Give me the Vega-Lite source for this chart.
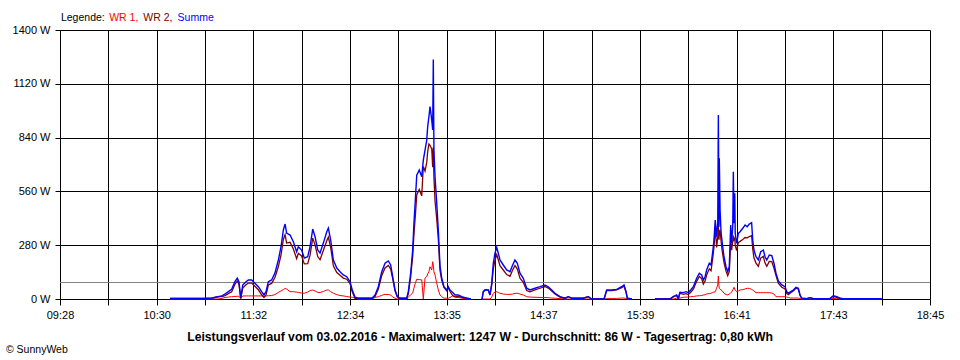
{
  "$schema": "https://vega.github.io/schema/vega-lite/v6.json",
  "width": 870,
  "height": 269,
  "autosize": {"type": "none"},
  "padding": {"left": 60, "top": 30, "right": 30, "bottom": 61},
  "background": "white",
  "config": {"view": {"stroke": null}, "font": "Liberation Sans"},
  "data": {"values": [
    {"t":638.4,"seg":1,"summe":3,"wr1":0,"wr2":3},
    {"t":660.8,"seg":1,"summe":3,"wr1":0,"wr2":3},
    {"t":665.3,"seg":1,"summe":5,"wr1":0,"wr2":5},
    {"t":669.2,"seg":1,"summe":12,"wr1":0,"wr2":12},
    {"t":671.7,"seg":1,"summe":16,"wr1":3,"wr2":13},
    {"t":673.6,"seg":1,"summe":26,"wr1":8,"wr2":18},
    {"t":675.8,"seg":1,"summe":38,"wr1":10,"wr2":28},
    {"t":677.9,"seg":1,"summe":50,"wr1":12,"wr2":38},
    {"t":680.0,"seg":1,"summe":90,"wr1":13,"wr2":77},
    {"t":681.5,"seg":1,"summe":108,"wr1":14,"wr2":94},
    {"t":682.6,"seg":1,"summe":90,"wr1":14,"wr2":76},
    {"t":683.7,"seg":1,"summe":5,"wr1":3,"wr2":2},
    {"t":685.0,"seg":1,"summe":73,"wr1":16,"wr2":57},
    {"t":687.1,"seg":1,"summe":90,"wr1":16,"wr2":74},
    {"t":688.6,"seg":1,"summe":99,"wr1":16,"wr2":83},
    {"t":690.7,"seg":1,"summe":99,"wr1":16,"wr2":83},
    {"t":692.8,"seg":1,"summe":82,"wr1":16,"wr2":66},
    {"t":695.0,"seg":1,"summe":64,"wr1":16,"wr2":48},
    {"t":697.1,"seg":1,"summe":38,"wr1":16,"wr2":22},
    {"t":698.6,"seg":1,"summe":21,"wr1":13,"wr2":8},
    {"t":699.9,"seg":1,"summe":38,"wr1":16,"wr2":22},
    {"t":701.4,"seg":1,"summe":90,"wr1":17,"wr2":73},
    {"t":703.5,"seg":1,"summe":99,"wr1":18,"wr2":81},
    {"t":705.6,"seg":1,"summe":135,"wr1":23,"wr2":112},
    {"t":707.8,"seg":1,"summe":203,"wr1":34,"wr2":169},
    {"t":709.5,"seg":1,"summe":272,"wr1":42,"wr2":230},
    {"t":711.0,"seg":1,"summe":359,"wr1":49,"wr2":310},
    {"t":712.1,"seg":1,"summe":390,"wr1":55,"wr2":335},
    {"t":713.1,"seg":1,"summe":343,"wr1":52,"wr2":291},
    {"t":715.3,"seg":1,"summe":333,"wr1":38,"wr2":295},
    {"t":717.4,"seg":1,"summe":298,"wr1":38,"wr2":260},
    {"t":719.5,"seg":1,"summe":246,"wr1":36,"wr2":210},
    {"t":720.6,"seg":1,"summe":272,"wr1":34,"wr2":238},
    {"t":722.7,"seg":1,"summe":255,"wr1":31,"wr2":224},
    {"t":724.4,"seg":1,"summe":213,"wr1":30,"wr2":183},
    {"t":726.6,"seg":1,"summe":220,"wr1":36,"wr2":184},
    {"t":728.1,"seg":1,"summe":272,"wr1":44,"wr2":228},
    {"t":729.8,"seg":1,"summe":364,"wr1":47,"wr2":317},
    {"t":731.3,"seg":1,"summe":324,"wr1":42,"wr2":282},
    {"t":733.0,"seg":1,"summe":255,"wr1":34,"wr2":221},
    {"t":734.5,"seg":1,"summe":239,"wr1":34,"wr2":205},
    {"t":736.6,"seg":1,"summe":291,"wr1":39,"wr2":252},
    {"t":738.8,"seg":1,"summe":350,"wr1":47,"wr2":303},
    {"t":739.8,"seg":1,"summe":369,"wr1":47,"wr2":322},
    {"t":741.3,"seg":1,"summe":307,"wr1":38,"wr2":269},
    {"t":743.0,"seg":1,"summe":203,"wr1":30,"wr2":173},
    {"t":745.2,"seg":1,"summe":161,"wr1":23,"wr2":138},
    {"t":747.3,"seg":1,"summe":142,"wr1":18,"wr2":124},
    {"t":749.4,"seg":1,"summe":125,"wr1":16,"wr2":109},
    {"t":751.6,"seg":1,"summe":116,"wr1":13,"wr2":103},
    {"t":753.7,"seg":1,"summe":90,"wr1":10,"wr2":80},
    {"t":755.1,"seg":1,"summe":47,"wr1":9,"wr2":38},
    {"t":756.9,"seg":1,"summe":9,"wr1":5,"wr2":4},
    {"t":758.8,"seg":1,"summe":4,"wr1":0,"wr2":4},
    {"t":763.3,"seg":1,"summe":4,"wr1":0,"wr2":4},
    {"t":767.8,"seg":1,"summe":4,"wr1":0,"wr2":4},
    {"t":769.7,"seg":1,"summe":21,"wr1":8,"wr2":13},
    {"t":771.8,"seg":1,"summe":64,"wr1":12,"wr2":52},
    {"t":774.0,"seg":1,"summe":142,"wr1":19,"wr2":123},
    {"t":776.1,"seg":1,"summe":186,"wr1":24,"wr2":162},
    {"t":778.2,"seg":1,"summe":198,"wr1":23,"wr2":175},
    {"t":779.7,"seg":1,"summe":177,"wr1":21,"wr2":156},
    {"t":781.0,"seg":1,"summe":116,"wr1":10,"wr2":106},
    {"t":782.5,"seg":1,"summe":47,"wr1":4,"wr2":43},
    {"t":784.0,"seg":1,"summe":12,"wr1":0,"wr2":12},
    {"t":785.7,"seg":1,"summe":4,"wr1":0,"wr2":4},
    {"t":790.0,"seg":1,"summe":4,"wr1":0,"wr2":4},
    {"t":791.0,"seg":1,"summe":38,"wr1":10,"wr2":28},
    {"t":792.5,"seg":1,"summe":134,"wr1":21,"wr2":113},
    {"t":793.8,"seg":1,"summe":255,"wr1":31,"wr2":224},
    {"t":794.6,"seg":1,"summe":394,"wr1":57,"wr2":337},
    {"t":795.5,"seg":1,"summe":515,"wr1":82,"wr2":433},
    {"t":796.4,"seg":1,"summe":645,"wr1":103,"wr2":542},
    {"t":798.0,"seg":1,"summe":671,"wr1":101,"wr2":570},
    {"t":799.6,"seg":1,"summe":636,"wr1":99,"wr2":537},
    {"t":800.6,"seg":1,"summe":723,"wr1":0,"wr2":690},
    {"t":801.7,"seg":1,"summe":775,"wr1":109,"wr2":666},
    {"t":802.8,"seg":1,"summe":827,"wr1":116,"wr2":711},
    {"t":803.4,"seg":1,"summe":897,"wr1":130,"wr2":767},
    {"t":804.2,"seg":1,"summe":949,"wr1":142,"wr2":807},
    {"t":804.9,"seg":1,"summe":1001,"wr1":168,"wr2":800},
    {"t":806.0,"seg":1,"summe":932,"wr1":151,"wr2":781},
    {"t":806.6,"seg":1,"summe":880,"wr1":194,"wr2":686},
    {"t":807.0,"seg":1,"summe":1247,"wr1":177,"wr2":790},
    {"t":807.4,"seg":1,"summe":775,"wr1":142,"wr2":633},
    {"t":808.1,"seg":1,"summe":636,"wr1":125,"wr2":511},
    {"t":809.2,"seg":1,"summe":498,"wr1":82,"wr2":416},
    {"t":810.2,"seg":1,"summe":359,"wr1":47,"wr2":312},
    {"t":811.3,"seg":1,"summe":170,"wr1":21,"wr2":149},
    {"t":812.4,"seg":1,"summe":109,"wr1":12,"wr2":97},
    {"t":813.8,"seg":1,"summe":64,"wr1":4,"wr2":60},
    {"t":815.6,"seg":1,"summe":47,"wr1":4,"wr2":43},
    {"t":816.6,"seg":1,"summe":64,"wr1":4,"wr2":60},
    {"t":817.7,"seg":1,"summe":47,"wr1":8,"wr2":39},
    {"t":819.4,"seg":1,"summe":34,"wr1":16,"wr2":18},
    {"t":820.9,"seg":1,"summe":21,"wr1":10,"wr2":11},
    {"t":823.0,"seg":1,"summe":21,"wr1":8,"wr2":13},
    {"t":825.2,"seg":1,"summe":12,"wr1":4,"wr2":8},
    {"t":828.4,"seg":1,"summe":4,"wr1":0,"wr2":4},
    {"t":831.1,"seg":1,"summe":0,"wr1":0,"wr2":0},
    {"t":838.2,"seg":2,"summe":0,"wr1":0,"wr2":0},
    {"t":839.0,"seg":2,"summe":38,"wr1":0,"wr2":38},
    {"t":840.1,"seg":2,"summe":47,"wr1":0,"wr2":47},
    {"t":842.2,"seg":2,"summe":47,"wr1":0,"wr2":47},
    {"t":843.3,"seg":2,"summe":21,"wr1":0,"wr2":21},
    {"t":844.4,"seg":2,"summe":82,"wr1":10,"wr2":72},
    {"t":845.4,"seg":2,"summe":186,"wr1":30,"wr2":156},
    {"t":846.5,"seg":2,"summe":238,"wr1":36,"wr2":202},
    {"t":847.6,"seg":2,"summe":269,"wr1":38,"wr2":231},
    {"t":848.6,"seg":2,"summe":238,"wr1":34,"wr2":204},
    {"t":849.7,"seg":2,"summe":203,"wr1":30,"wr2":173},
    {"t":851.8,"seg":2,"summe":177,"wr1":26,"wr2":151},
    {"t":854.0,"seg":2,"summe":151,"wr1":24,"wr2":127},
    {"t":856.1,"seg":2,"summe":142,"wr1":24,"wr2":118},
    {"t":857.8,"seg":2,"summe":177,"wr1":26,"wr2":151},
    {"t":859.3,"seg":2,"summe":203,"wr1":29,"wr2":174},
    {"t":860.8,"seg":2,"summe":186,"wr1":30,"wr2":156},
    {"t":862.5,"seg":2,"summe":134,"wr1":26,"wr2":108},
    {"t":864.6,"seg":2,"summe":108,"wr1":21,"wr2":87},
    {"t":866.8,"seg":2,"summe":56,"wr1":12,"wr2":44},
    {"t":868.9,"seg":2,"summe":47,"wr1":10,"wr2":37},
    {"t":872.1,"seg":2,"summe":56,"wr1":9,"wr2":47},
    {"t":875.3,"seg":2,"summe":64,"wr1":8,"wr2":56},
    {"t":878.5,"seg":2,"summe":73,"wr1":8,"wr2":65},
    {"t":880.6,"seg":2,"summe":64,"wr1":7,"wr2":57},
    {"t":882.8,"seg":2,"summe":47,"wr1":5,"wr2":42},
    {"t":884.9,"seg":2,"summe":30,"wr1":4,"wr2":26},
    {"t":888.1,"seg":2,"summe":12,"wr1":2,"wr2":10},
    {"t":891.3,"seg":2,"summe":4,"wr1":0,"wr2":4},
    {"t":893.4,"seg":2,"summe":12,"wr1":0,"wr2":12},
    {"t":895.8,"seg":2,"summe":4,"wr1":0,"wr2":4},
    {"t":902.8,"seg":2,"summe":4,"wr1":0,"wr2":4},
    {"t":906.2,"seg":2,"summe":12,"wr1":0,"wr2":12},
    {"t":908.4,"seg":2,"summe":0,"wr1":0,"wr2":0},
    {"t":916.3,"seg":2,"summe":0,"wr1":0,"wr2":0},
    {"t":918.0,"seg":2,"summe":47,"wr1":3,"wr2":44},
    {"t":921.2,"seg":2,"summe":47,"wr1":3,"wr2":44},
    {"t":924.4,"seg":2,"summe":50,"wr1":3,"wr2":47},
    {"t":927.6,"seg":2,"summe":64,"wr1":5,"wr2":59},
    {"t":929.1,"seg":2,"summe":73,"wr1":5,"wr2":68},
    {"t":930.4,"seg":2,"summe":38,"wr1":3,"wr2":35},
    {"t":931.2,"seg":2,"summe":4,"wr1":0,"wr2":4},
    {"t":934.2,"seg":2,"summe":0,"wr1":0,"wr2":0},
    {"t":948.9,"seg":3,"summe":0,"wr1":0,"wr2":0},
    {"t":958.5,"seg":3,"summe":0,"wr1":0,"wr2":0},
    {"t":960.7,"seg":3,"summe":12,"wr1":0,"wr2":12},
    {"t":962.8,"seg":3,"summe":21,"wr1":4,"wr2":17},
    {"t":963.9,"seg":3,"summe":4,"wr1":2,"wr2":2},
    {"t":964.9,"seg":3,"summe":35,"wr1":5,"wr2":30},
    {"t":967.1,"seg":3,"summe":33,"wr1":9,"wr2":24},
    {"t":968.8,"seg":3,"summe":38,"wr1":10,"wr2":28},
    {"t":970.3,"seg":3,"summe":33,"wr1":10,"wr2":23},
    {"t":971.8,"seg":3,"summe":47,"wr1":12,"wr2":35},
    {"t":973.5,"seg":3,"summe":64,"wr1":13,"wr2":51},
    {"t":975.6,"seg":3,"summe":108,"wr1":16,"wr2":92},
    {"t":977.3,"seg":3,"summe":134,"wr1":17,"wr2":117},
    {"t":978.8,"seg":3,"summe":125,"wr1":18,"wr2":107},
    {"t":979.9,"seg":3,"summe":99,"wr1":21,"wr2":78},
    {"t":981.0,"seg":3,"summe":116,"wr1":22,"wr2":94},
    {"t":982.0,"seg":3,"summe":151,"wr1":26,"wr2":125},
    {"t":983.7,"seg":3,"summe":186,"wr1":29,"wr2":157},
    {"t":984.8,"seg":3,"summe":177,"wr1":30,"wr2":147},
    {"t":985.9,"seg":3,"summe":246,"wr1":34,"wr2":212},
    {"t":986.7,"seg":3,"summe":307,"wr1":36,"wr2":271},
    {"t":987.5,"seg":3,"summe":411,"wr1":38,"wr2":373},
    {"t":988.4,"seg":3,"summe":324,"wr1":56,"wr2":268},
    {"t":989.1,"seg":3,"summe":394,"wr1":73,"wr2":321},
    {"t":989.5,"seg":3,"summe":958,"wr1":120,"wr2":380},
    {"t":989.9,"seg":3,"summe":376,"wr1":68,"wr2":308},
    {"t":990.1,"seg":3,"summe":732,"wr1":56,"wr2":340},
    {"t":990.6,"seg":3,"summe":463,"wr1":52,"wr2":360},
    {"t":991.2,"seg":3,"summe":350,"wr1":47,"wr2":303},
    {"t":992.0,"seg":3,"summe":290,"wr1":42,"wr2":248},
    {"t":993.1,"seg":3,"summe":220,"wr1":30,"wr2":190},
    {"t":994.4,"seg":3,"summe":168,"wr1":23,"wr2":145},
    {"t":995.5,"seg":3,"summe":142,"wr1":21,"wr2":121},
    {"t":996.5,"seg":3,"summe":168,"wr1":26,"wr2":142},
    {"t":997.4,"seg":3,"summe":385,"wr1":31,"wr2":300},
    {"t":998.0,"seg":3,"summe":290,"wr1":36,"wr2":254},
    {"t":998.7,"seg":3,"summe":376,"wr1":47,"wr2":300},
    {"t":999.1,"seg":3,"summe":662,"wr1":52,"wr2":330},
    {"t":999.5,"seg":3,"summe":394,"wr1":61,"wr2":310},
    {"t":1000.0,"seg":3,"summe":550,"wr1":52,"wr2":320},
    {"t":1000.3,"seg":3,"summe":342,"wr1":47,"wr2":280},
    {"t":1001.2,"seg":3,"summe":290,"wr1":38,"wr2":252},
    {"t":1002.3,"seg":3,"summe":342,"wr1":42,"wr2":295},
    {"t":1003.4,"seg":3,"summe":350,"wr1":47,"wr2":300},
    {"t":1005.1,"seg":3,"summe":368,"wr1":49,"wr2":310},
    {"t":1006.6,"seg":3,"summe":385,"wr1":52,"wr2":320},
    {"t":1008.0,"seg":3,"summe":376,"wr1":56,"wr2":318},
    {"t":1009.3,"seg":3,"summe":390,"wr1":55,"wr2":325},
    {"t":1010.8,"seg":3,"summe":397,"wr1":50,"wr2":330},
    {"t":1011.5,"seg":3,"summe":307,"wr1":47,"wr2":260},
    {"t":1012.3,"seg":3,"summe":255,"wr1":42,"wr2":213},
    {"t":1013.6,"seg":3,"summe":220,"wr1":33,"wr2":187},
    {"t":1015.1,"seg":3,"summe":203,"wr1":33,"wr2":170},
    {"t":1016.6,"seg":3,"summe":246,"wr1":33,"wr2":213},
    {"t":1018.3,"seg":3,"summe":255,"wr1":33,"wr2":222},
    {"t":1019.4,"seg":3,"summe":220,"wr1":33,"wr2":187},
    {"t":1020.5,"seg":3,"summe":203,"wr1":33,"wr2":170},
    {"t":1022.1,"seg":3,"summe":229,"wr1":33,"wr2":196},
    {"t":1023.7,"seg":3,"summe":226,"wr1":31,"wr2":195},
    {"t":1025.1,"seg":3,"summe":186,"wr1":26,"wr2":160},
    {"t":1026.4,"seg":3,"summe":134,"wr1":12,"wr2":122},
    {"t":1027.9,"seg":3,"summe":94,"wr1":12,"wr2":82},
    {"t":1030.1,"seg":3,"summe":73,"wr1":12,"wr2":61},
    {"t":1032.2,"seg":3,"summe":64,"wr1":12,"wr2":52},
    {"t":1033.3,"seg":3,"summe":38,"wr1":10,"wr2":28},
    {"t":1034.3,"seg":3,"summe":30,"wr1":8,"wr2":22},
    {"t":1035.8,"seg":3,"summe":38,"wr1":5,"wr2":33},
    {"t":1037.5,"seg":3,"summe":47,"wr1":5,"wr2":42},
    {"t":1039.2,"seg":3,"summe":61,"wr1":5,"wr2":56},
    {"t":1040.7,"seg":3,"summe":56,"wr1":5,"wr2":51},
    {"t":1041.8,"seg":3,"summe":21,"wr1":3,"wr2":18},
    {"t":1042.9,"seg":3,"summe":4,"wr1":0,"wr2":4},
    {"t":1046.1,"seg":3,"summe":2,"wr1":0,"wr2":2},
    {"t":1048.2,"seg":3,"summe":7,"wr1":0,"wr2":7},
    {"t":1050.3,"seg":3,"summe":2,"wr1":0,"wr2":2},
    {"t":1061.0,"seg":3,"summe":2,"wr1":0,"wr2":2},
    {"t":1063.1,"seg":3,"summe":17,"wr1":3,"wr2":14},
    {"t":1065.3,"seg":3,"summe":12,"wr1":3,"wr2":9},
    {"t":1067.4,"seg":3,"summe":4,"wr1":0,"wr2":4},
    {"t":1069.3,"seg":3,"summe":1,"wr1":0,"wr2":1},
    {"t":1094.1,"seg":3,"summe":1,"wr1":0,"wr2":1}
  ]},
  "layer": [
    {
      "data": {"values": [{"avg": 86}]},
      "mark": {"type": "rule", "color": "#808080", "strokeWidth": 1},
      "encoding": {"y": {"field": "avg", "type": "quantitative"}}
    },
    {
      "mark": {"type": "line", "color": "#ff0000", "strokeWidth": 1},
      "encoding": {
        "x": {
          "field": "t", "type": "quantitative",
          "scale": {"domain": [568, 1125], "nice": false, "zero": false},
          "axis": {
            "title": null,
            "values": [568, 598.944, 629.889, 660.833, 691.778, 722.722, 753.667, 784.611, 815.556, 846.5, 877.444, 908.389, 939.333, 970.278, 1001.222, 1032.167, 1063.111, 1094.056, 1125],
            "labelExpr": "(round((datum.value-568)/30.9444) % 2 == 0) ? ['09:28','10:30','11:32','12:34','13:35','14:37','15:39','16:41','17:43','18:45'][round((datum.value-568)/30.9444)/2] : ''",
            "grid": true, "gridColor": "#000000", "gridOpacity": 1, "gridWidth": 1,
            "domainColor": "#000000", "domainWidth": 1,
            "tickColor": "#000000", "tickSize": 6, "tickWidth": 1,
            "labelPadding": 4, "labelFontSize": 11, "labelColor": "#000000", "labelFont": "Liberation Sans",
            "labelFlush": false, "labelOverlap": false, "labelBound": false
          }
        },
        "y": {
          "field": "wr1", "type": "quantitative",
          "scale": {"domain": [0, 1400], "nice": false},
          "axis": {
            "title": null,
            "values": [0, 280, 560, 840, 1120, 1400],
            "labelExpr": "datum.value + ' W'",
            "grid": true, "gridColor": "#000000", "gridOpacity": 1, "gridWidth": 1,
            "domainColor": "#000000", "domainWidth": 1,
            "tickColor": "#000000", "tickSize": 5, "tickWidth": 1,
            "labelPadding": 5, "labelFontSize": 11, "labelColor": "#000000", "labelFont": "Liberation Sans",
            "labelOverlap": false, "labelBound": false
          }
        },
        "detail": {"field": "seg", "type": "nominal"}
      }
    },
    {
      "mark": {"type": "line", "color": "#800000", "strokeWidth": 1.3},
      "encoding": {
        "x": {"field": "t", "type": "quantitative"},
        "y": {"field": "wr2", "type": "quantitative"},
        "detail": {"field": "seg", "type": "nominal"}
      }
    },
    {
      "mark": {"type": "line", "color": "#0000ff", "strokeWidth": 1.4},
      "encoding": {
        "x": {"field": "t", "type": "quantitative"},
        "y": {"field": "summe", "type": "quantitative"},
        "detail": {"field": "seg", "type": "nominal"}
      }
    },
    {
      "data": {"values": [{"label": "Legende:"}]},
      "mark": {"type": "text", "align": "left", "baseline": "alphabetic", "fontSize": 10.5, "font": "Liberation Sans", "color": "#000000"},
      "encoding": {"text": {"field": "label"}, "x": {"datum": 568.6, "type": "quantitative"}, "y": {"datum": 1448, "type": "quantitative"}}
    },
    {
      "data": {"values": [{"label": "WR 1,"}]},
      "mark": {"type": "text", "align": "left", "baseline": "alphabetic", "fontSize": 10.5, "font": "Liberation Sans", "color": "#ff0000"},
      "encoding": {"text": {"field": "label"}, "x": {"datum": 599.5, "type": "quantitative"}, "y": {"datum": 1448, "type": "quantitative"}}
    },
    {
      "data": {"values": [{"label": "WR 2,"}]},
      "mark": {"type": "text", "align": "left", "baseline": "alphabetic", "fontSize": 10.5, "font": "Liberation Sans", "color": "#800000"},
      "encoding": {"text": {"field": "label"}, "x": {"datum": 621.3, "type": "quantitative"}, "y": {"datum": 1448, "type": "quantitative"}}
    },
    {
      "data": {"values": [{"label": "Summe"}]},
      "mark": {"type": "text", "align": "left", "baseline": "alphabetic", "fontSize": 10.5, "font": "Liberation Sans", "color": "#0000ff"},
      "encoding": {"text": {"field": "label"}, "x": {"datum": 643.3, "type": "quantitative"}, "y": {"datum": 1448, "type": "quantitative"}}
    },
    {
      "data": {"values": [{"label": "Leistungsverlauf vom 03.02.2016 - Maximalwert: 1247 W - Durchschnitt: 86 W - Tagesertrag: 0,80 kWh"}]},
      "mark": {"type": "text", "align": "center", "baseline": "alphabetic", "fontSize": 12.2, "fontWeight": "bold", "font": "Liberation Sans", "color": "#000000"},
      "encoding": {"text": {"field": "label"}, "x": {"datum": 836.9, "type": "quantitative"}, "y": {"datum": -221, "type": "quantitative"}}
    },
    {
      "data": {"values": [{"label": "© SunnyWeb"}]},
      "mark": {"type": "text", "align": "left", "baseline": "alphabetic", "fontSize": 10.5, "font": "Liberation Sans", "color": "#000000"},
      "encoding": {"text": {"field": "label"}, "x": {"datum": 533.4, "type": "quantitative"}, "y": {"datum": -278.5, "type": "quantitative"}}
    }
  ]
}
